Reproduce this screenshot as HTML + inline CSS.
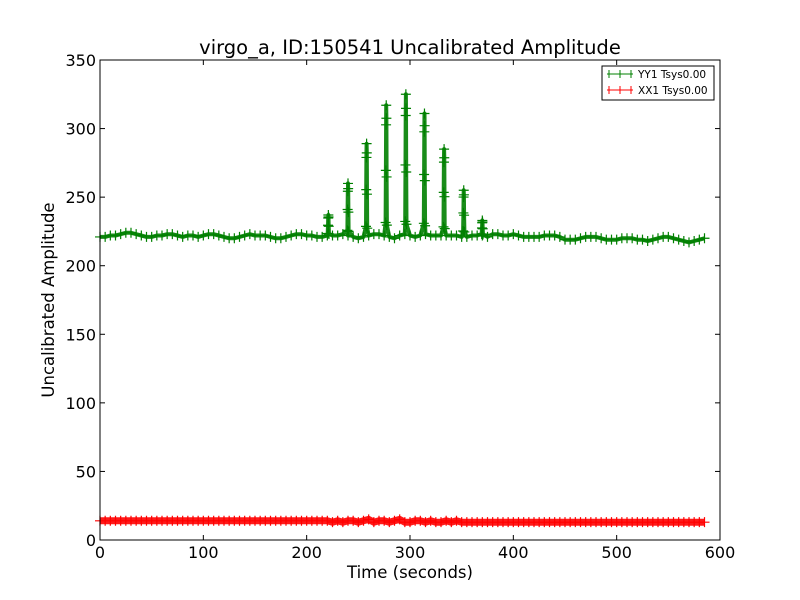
<!DOCTYPE html>
<html><head><meta charset="utf-8"><style>
body{margin:0;background:#fff;}
svg{display:block;font-family:"DejaVu Sans","Liberation Sans",sans-serif;}
</style></head><body>
<svg id="chart" width="800" height="600">
<rect width="800" height="600" fill="#fff"/>
<text x="410" y="54" font-size="19.5" text-anchor="middle">virgo_a, ID:150541 Uncalibrated Amplitude</text>
<g id="plot"></g>
<g id="axes"></g>
<text x="410" y="578" font-size="16.5" text-anchor="middle">Time (seconds)</text>
<text transform="translate(54,300) rotate(-90)" font-size="16.5" text-anchor="middle">Uncalibrated Amplitude</text>
<g>
<rect x="602" y="66" width="112" height="34" fill="#fff" stroke="#000" stroke-width="1"/>
<g>
<line x1="607" y1="74" x2="633" y2="74" stroke="#008000"/><line x1="620" y1="70" x2="620" y2="78" stroke="#008000"/><line x1="609" y1="70" x2="609" y2="78" stroke="#008000"/><line x1="631" y1="70" x2="631" y2="78" stroke="#008000"/>
<text x="638" y="78" font-size="10.5">YY1 Tsys0.00</text></g>
<g>
<line x1="607" y1="90" x2="633" y2="90" stroke="#ff0000"/><line x1="620" y1="86" x2="620" y2="94" stroke="#ff0000"/><line x1="609" y1="86" x2="609" y2="94" stroke="#ff0000"/><line x1="631" y1="86" x2="631" y2="94" stroke="#ff0000"/>
<text x="638" y="94" font-size="10.5">XX1 Tsys0.00</text></g>
</g>
</svg>
<script>
const xTicks=[0,100,200,300,400,500,600];
const yTicks=[0,50,100,150,200,250,300,350];
const baseStep=5;
const yyBase=[221,221,222,222,223,224,224,223,222,221,221,222,222,223,223,222,221,222,222,221,222,223,223,222,221,220,220,221,222,223,222,222,222,221,220,220,221,222,223,223,222,222,221,221,222,222,222,223,222,221,220,221,222,223,223,222,221,220,222,223,222,221,222,223,222,222,222,222,222,222,221,221,222,222,222,221,223,223,222,222,223,222,221,221,221,221,222,222,222,221,219,219,219,220,221,221,221,220,219,219,219,220,220,220,219,219,218,219,220,221,221,220,219,218,217,218,219,220];
const xxBase=[14,14,14,14,14,14,14,14,14,14,14,14,14,14,14,14,14,14,14,14,14,14,14,14,14,14,14,14,14,14,14,14,14,14,14,14,14,14,14,14,14,14,14,14,14,13,14,13,14,14,13,14,15,13,14,14,13,14,15,13,13,14,14,13,14,13,13,14,13,14,13,13,13,13,13,13,13,13,13,13,13,13,13,13,13,13,13,13,13,13,13,13,13,13,13,13,13,13,13,13,13,13,13,13,13,13,13,13,13,13,13,13,13,13,13,13,13,13];
const peakTimes=[221,240,258,277,296,314,333,352,370];
const peakValues=[237,260,289,317,325,311,285,255,233];
const X0=100,X1=720,Y0=540,Y1=60;
const sx=t=>X0+t*(X1-X0)/600, sy=v=>Y0-v*(Y0-Y1)/350;
const NS="http://www.w3.org/2000/svg";
const plot=document.getElementById('plot'), axes=document.getElementById('axes');
function mk(tag,attrs,parent){const e=document.createElementNS(NS,tag);for(const k in attrs)e.setAttribute(k,attrs[k]);parent.appendChild(e);return e;}
function series(base,peaks,color,name,lw,ms){
  let pts=base.map((v,i)=>[i*baseStep,v]);
  if(peaks){peakTimes.forEach((t,i)=>{const p=peakValues[i],b=222;
    pts.push([t-0.6,b+(p-b)*0.1],[t-0.35,b+(p-b)*0.5],[t-0.15,b+(p-b)*0.85],[t,p],[t+0.15,b+(p-b)*0.9],[t+0.35,b+(p-b)*0.45],[t+0.6,b+(p-b)*0.08]);});}
  pts.sort((a,b)=>a[0]-b[0]);
  const g=mk('g',{},plot);
  
  
  const d=pts.map((p,i)=>(i?'L':'M')+sx(p[0]).toFixed(1)+','+sy(p[1]).toFixed(1)).join('');
  mk('path',{d:d,fill:'none',stroke:color,'stroke-width':lw,'stroke-linejoin':'round','stroke-opacity':0.9},g);
  let md='';pts.forEach(p=>{const x=sx(p[0]),y=sy(p[1]);md+=`M${x-ms},${y}h${2*ms}M${x},${y-ms}v${2*ms}`;});
  mk('path',{d:md,fill:'none',stroke:color,'stroke-width':1.2},g);
}
series(yyBase,true,'#008000','series-yy1',4,5);
series(xxBase,false,'#ff0000','series-xx1',7,5);
mk('rect',{x:X0,y:Y1,width:X1-X0,height:Y0-Y1,fill:'none',stroke:'#000','stroke-width':1},axes);
xTicks.forEach(t=>{const x=sx(t);
  mk('line',{x1:x,y1:Y0,x2:x,y2:Y0-5,stroke:'#000'},axes);
  mk('line',{x1:x,y1:Y1,x2:x,y2:Y1+5,stroke:'#000'},axes);
  const tx=mk('text',{x:x,y:Y0+18,'font-size':16,'text-anchor':'middle'},axes);tx.textContent=t;
  
  });
yTicks.forEach(v=>{const y=sy(v);
  mk('line',{x1:X0,y1:y,x2:X0+5,y2:y,stroke:'#000'},axes);
  mk('line',{x1:X1,y1:y,x2:X1-5,y2:y,stroke:'#000'},axes);
  const tx=mk('text',{x:X0-4,y:y+6,'font-size':16,'text-anchor':'end'},axes);tx.textContent=v;
  
  });
</script>
</body></html>
